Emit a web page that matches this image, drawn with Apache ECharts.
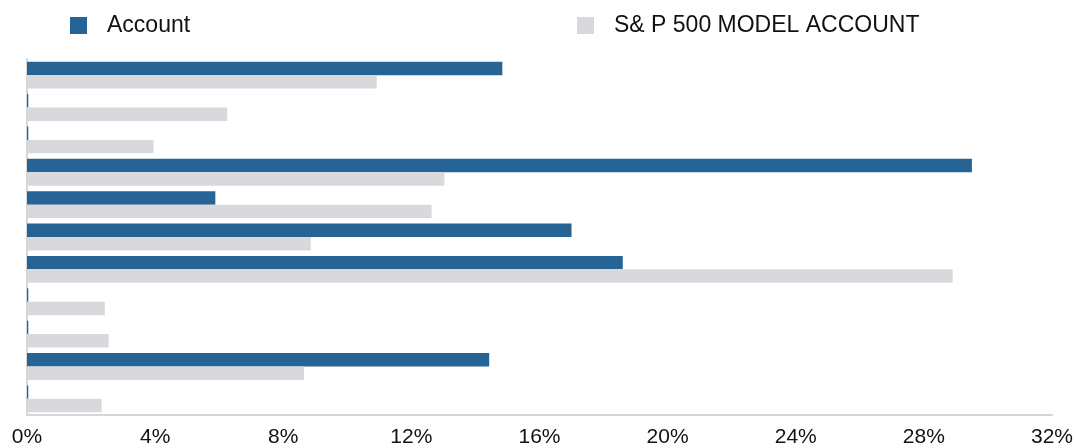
<!DOCTYPE html>
<html>
<head>
<meta charset="utf-8">
<script src="https://cdn.jsdelivr.net/npm/echarts@6/dist/echarts.min.js"></script>
<style>
html,body{margin:0;padding:0;background:#fff;}
#chart{width:1076px;height:448px;}
</style>
</head>
<body>
<div id="chart"></div>
<script>
var categories = ['C1','C2','C3','C4','C5','C6','C7','C8','C9','C10','C11'];
var accountValues = [14.84, 0.04, 0.04, 29.5, 5.88, 17.0, 18.6, 0.04, 0.04, 14.43, 0.04];
var modelValues = [10.92, 6.25, 3.95, 13.03, 12.63, 8.86, 28.9, 2.43, 2.55, 8.65, 2.33];
var seriesNames = ['Account', 'S& P 500 MODEL ACCOUNT'];
var xTicks = {min: 0, max: 32, interval: 4};

var blue = '#266496';
var gray = '#d8d9dc';
var font = 'Arial, "Liberation Sans", sans-serif';

var chart = echarts.init(document.getElementById('chart'));
chart.setOption({
  animation: false,
  legend: [
    {
      data: [seriesNames[0]], left: 65, top: 9, itemWidth: 17, itemHeight: 17,
      icon: 'rect', textStyle: {fontFamily: font, fontSize: 23, color: '#111', padding: [0,0,0,15]}
    },
    {
      data: [seriesNames[1]], left: 572, top: 9, itemWidth: 17, itemHeight: 17,
      icon: 'rect', textStyle: {fontFamily: font, fontSize: 23, color: '#111', padding: [0,0,0,15]}
    }
  ],
  grid: {left: 27, right: 20, top: 59, bottom: 31, containLabel: false},
  xAxis: {
    type: 'value', min: xTicks.min, max: xTicks.max, interval: xTicks.interval,
    axisLine: {show: true, lineStyle: {color: '#d6d6d6', width: 2}},
    axisTick: {show: false},
    splitLine: {show: false},
    axisLabel: {formatter: '{value}%', fontFamily: font, fontSize: 21, color: '#111', margin: 12}
  },
  yAxis: {
    type: 'category', data: categories, inverse: true,
    axisLine: {show: true, lineStyle: {color: '#d6d6d6', width: 2}},
    axisTick: {show: false},
    axisLabel: {show: false}
  },
  series: [
    {name: seriesNames[0], type: 'bar', data: accountValues, itemStyle: {color: blue},
     barGap: '0%', barCategoryGap: '17%'},
    {name: seriesNames[1], type: 'bar', data: modelValues, itemStyle: {color: gray},
     barGap: '0%', barCategoryGap: '17%'}
  ]
});
</script>
</body>
</html>
